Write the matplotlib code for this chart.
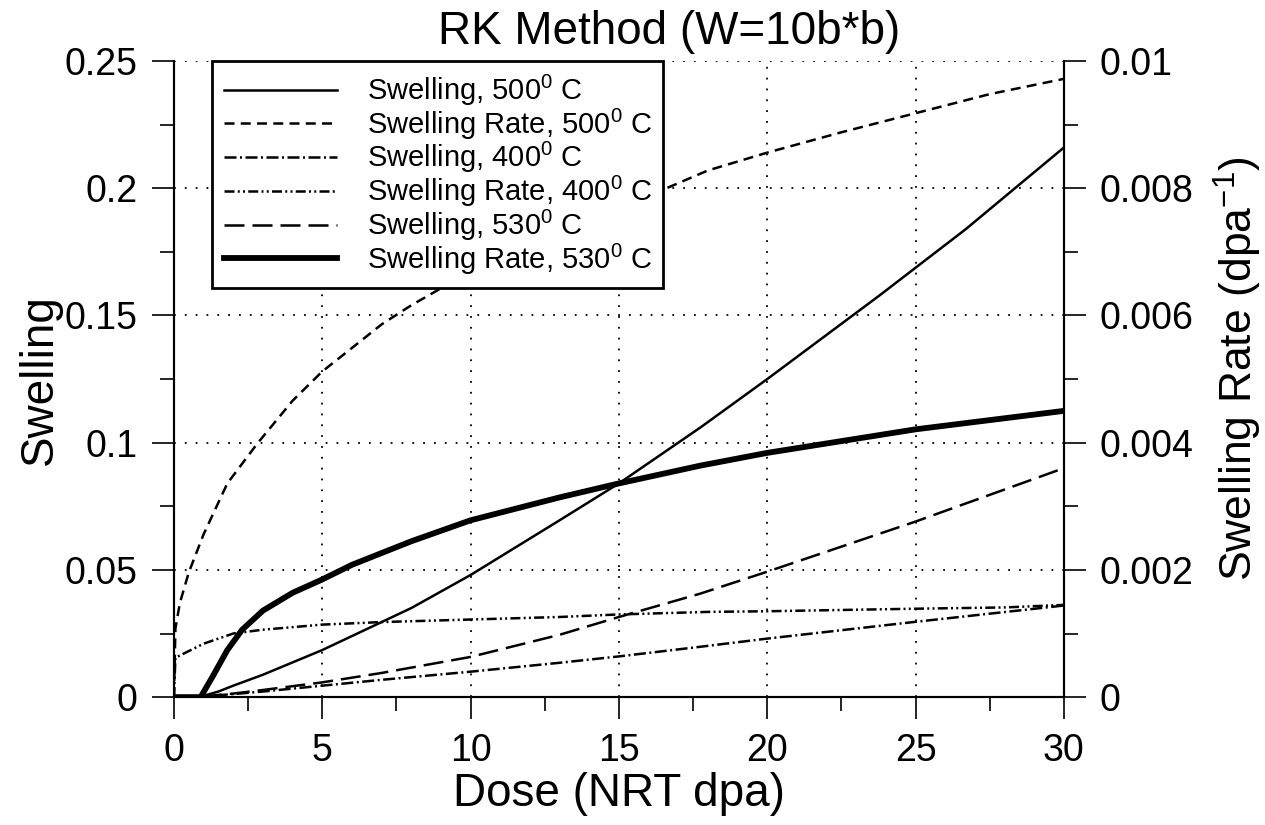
import matplotlib
matplotlib.use("Agg")
import matplotlib.pyplot as plt
from matplotlib.ticker import MultipleLocator

plt.rcParams["font.family"] = ["Liberation Sans", "DejaVu Sans"]
plt.rcParams["mathtext.fontset"] = "custom"
plt.rcParams["mathtext.rm"] = "Liberation Sans"
plt.rcParams["mathtext.it"] = "Liberation Sans:italic"
plt.rcParams["mathtext.default"] = "regular"

# swelling curves (left axis)
dose_sw500 = [0, 0.5, 1, 1.5, 2, 3, 5, 8, 10, 13, 15, 17.75, 20, 23.8, 26.7, 30]
sw500 = [0, 0.0001, 0.0005, 0.0022, 0.0045, 0.0088, 0.0185, 0.035, 0.048, 0.0695,
         0.084, 0.106, 0.125, 0.158, 0.184, 0.216]

dose_sw400 = [0, 1, 2, 3, 5, 7, 10, 13, 15, 17.75, 20, 25, 30]
sw400 = [0, 0.0003, 0.0012, 0.0022, 0.0045, 0.0068, 0.010, 0.0135, 0.016, 0.0198,
         0.023, 0.0296, 0.036]

dose_sw530 = [0, 1, 2, 3, 5, 7, 10, 13, 15, 17.75, 20, 25, 30]
sw530 = [0, 0.0003, 0.0014, 0.0028, 0.0058, 0.0095, 0.0158, 0.0245, 0.0315, 0.0407,
         0.0493, 0.069, 0.090]

# swelling rate curves (right axis, dpa^-1)
dose_rt500 = [0, 0.05, 0.2, 0.5, 1, 1.8, 2.8, 4, 5, 6.3, 7, 8, 9.8, 12, 15, 16.4, 18,
              20, 22.5, 25, 27.5, 30]
rt500 = [0, 0.00108, 0.00148, 0.00196, 0.00256, 0.00336, 0.00398, 0.00466, 0.00512,
         0.0056, 0.00586, 0.00616, 0.00664, 0.00708, 0.00772, 0.00796, 0.00828,
         0.00856, 0.00888, 0.00918, 0.00948, 0.00972]

dose_rt400 = [0, 0.05, 1, 2, 3, 5, 7, 10, 13, 15, 18, 20, 25, 28, 30]
rt400 = [0, 0.00062, 0.00084, 0.001, 0.00106, 0.00114, 0.00118, 0.00122, 0.00126,
         0.0013, 0.00134, 0.00135, 0.00139, 0.00141, 0.00145]

dose_rt530 = [0, 0.9, 1.3, 1.8, 2.3, 3, 4, 5, 6, 8, 10, 13, 15, 17.75, 20, 25, 30]
rt530 = [0, 0, 0.00032, 0.00074, 0.00106, 0.00136, 0.00164, 0.00185, 0.00208, 0.00245,
         0.00278, 0.00314, 0.00336, 0.00364, 0.00384, 0.00421, 0.0045]

fig = plt.figure(figsize=(12.65, 8.25), dpi=100)
ax = fig.add_axes([0.1375, 0.155, 0.7035, 0.771])
ax2 = ax.twinx()

lw = 1.8
h1, = ax.plot(dose_sw500, sw500, color="black", lw=lw, ls="-",
              label="Swelling, 500$^0$ C")
h2, = ax2.plot(dose_rt500, rt500, color="black", lw=lw, ls=(0, (4, 2.5)),
               label="Swelling Rate, 500$^0$ C")
h3, = ax.plot(dose_sw400, sw400, color="black", lw=lw, ls=(0, (4.8, 1.4, 0.8, 1.4)),
              label="Swelling, 400$^0$ C")
h4, = ax2.plot(dose_rt400, rt400, color="black", lw=lw,
               ls=(0, (4, 1.3, 0.8, 1.3, 0.8, 1.3)), label="Swelling Rate, 400$^0$ C")
h5, = ax.plot(dose_sw530, sw530, color="black", lw=lw, ls=(0, (8, 3.2)),
              label="Swelling, 530$^0$ C")
h6, = ax2.plot(dose_rt530, rt530, color="black", lw=4.2, ls="-",
               label="Swelling Rate, 530$^0$ C")

ax.set_xlim(0, 30)
ax.set_ylim(0, 0.25)
ax2.set_ylim(0, 0.01)

ax.xaxis.set_major_locator(MultipleLocator(5))
ax.xaxis.set_minor_locator(MultipleLocator(2.5))
ax.yaxis.set_minor_locator(MultipleLocator(0.025))
ax2.yaxis.set_minor_locator(MultipleLocator(0.001))
ax.set_yticks([0, 0.05, 0.1, 0.15, 0.2, 0.25])
ax.set_yticklabels(["0", "0.05", "0.1", "0.15", "0.2", "0.25"])
ax2.set_yticks([0, 0.002, 0.004, 0.006, 0.008, 0.01])
ax2.set_yticklabels(["0", "0.002", "0.004", "0.006", "0.008", "0.01"])

for a in (ax, ax2):
    a.spines["top"].set_visible(False)
    for s in a.spines.values():
        s.set_linewidth(1.5)
    a.tick_params(which="major", direction="out", length=16, width=1.2,
                  labelsize=27, pad=10)
    a.tick_params(which="minor", direction="out", length=10, width=1.2)
ax.tick_params(axis="y", right=False, which="both")

ax.grid(True, which="major", color="black", ls=(0, (1, 5)), lw=1.3)

ax.set_xlabel("Dose (NRT dpa)", fontsize=33, labelpad=2)
ax.set_ylabel("Swelling", fontsize=33, labelpad=2)
ax2.set_ylabel("Swelling Rate (dpa$^{-1}$)", fontsize=32)
ax2.yaxis.set_label_coords(1.166, 0.517)
fig.text(0.529, 0.935, "RK Method (W=10b*b)", fontsize=33, ha="center", va="bottom")

leg = ax2.legend(handles=[h1, h2, h3, h4, h5, h6], loc="upper left",
                 bbox_to_anchor=(0.0427, 1.0), fontsize=21, frameon=True,
                 fancybox=False, edgecolor="black", framealpha=1,
                 handlelength=3.9, handletextpad=1.0, labelspacing=-0.05,
                 borderpad=0.4, borderaxespad=0)
leg.get_frame().set_linewidth(2)

fig.savefig("out.png", dpi=100)
